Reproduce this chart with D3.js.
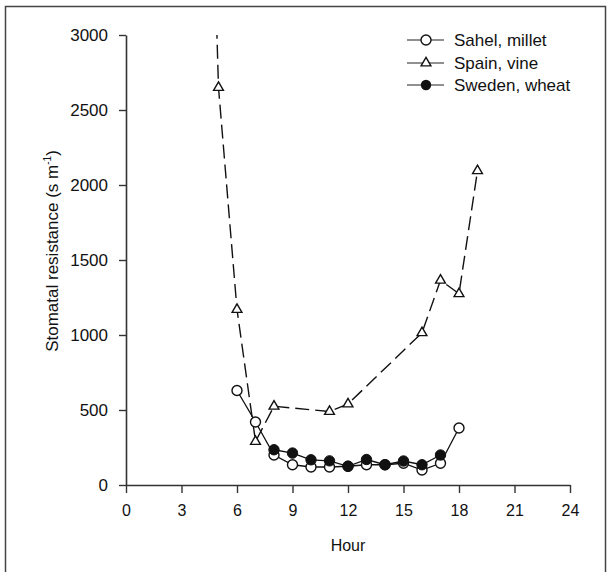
<!DOCTYPE html>
<html>
<head>
<meta charset="utf-8">
<script src="https://cdn.jsdelivr.net/npm/d3@7"></script>
<style>
  body { margin: 0; background: #fff; }
  text { font-family: "Liberation Sans", Arial, sans-serif; fill: #111; }
</style>
</head>
<body>
<script>
// data
var seriesNames = ["Sahel, millet", "Spain, vine", "Sweden, wheat"];

var milletHours = [6, 7, 8, 9, 10, 11, 12, 13, 14, 15, 16, 17, 18];
var milletRes = [630, 420, 200, 135, 120, 120, 125, 135, 135, 145, 100, 145, 380];

// first vine point lies above the plot top and is clipped
var vineHours = [4, 5, 6, 7, 8, 11, 12, 16, 17, 18, 19];
var vineRes = [6800, 2650, 1170, 290, 525, 490, 540, 1015, 1365, 1275, 2095];

var wheatHours = [8, 9, 10, 11, 12, 13, 14, 15, 16, 17];
var wheatRes = [235, 213, 168, 161, 125, 170, 135, 160, 135, 200];

var xTicks = [0, 3, 6, 9, 12, 15, 18, 21, 24];
var yTicks = [0, 500, 1000, 1500, 2000, 2500, 3000];

var width = 611, height = 572;
var margin = {top: 35, right: 41, bottom: 87, left: 126};

var svg = d3.select("body").append("svg")
    .attr("width", width)
    .attr("height", height);

// scanned frame around the figure
svg.append("rect")
    .attr("x", 5.5).attr("y", 6.5)
    .attr("width", 600).attr("height", 620)
    .attr("fill", "none")
    .attr("stroke", "#444")
    .attr("stroke-width", 1.5);

var x = d3.scaleLinear().domain([0, 24]).range([margin.left, width - margin.right]);
var y = d3.scaleLinear().domain([0, 3000]).range([height - margin.bottom, margin.top]);

svg.append("clipPath").attr("id", "plotclip")
  .append("rect")
    .attr("x", x(0)).attr("y", y(3000))
    .attr("width", x(24) - x(0)).attr("height", y(0) - y(3000));

// axes
var yAxis = svg.append("g")
    .attr("transform", "translate(" + x(0) + ",0)")
    .call(d3.axisLeft(y).tickValues(yTicks).tickFormat(d3.format("d"))
      .tickSize(7).tickSizeOuter(0).tickPadding(11));

var xAxis = svg.append("g")
    .attr("transform", "translate(0," + y(0) + ")")
    .call(d3.axisBottom(x).tickValues(xTicks).tickFormat(d3.format("d"))
      .tickSize(8).tickSizeOuter(0).tickPadding(12));

[yAxis, xAxis].forEach(function(ax) {
  ax.select(".domain").attr("stroke", "#333").attr("stroke-width", 1.6);
  ax.selectAll(".tick line").attr("stroke", "#333").attr("stroke-width", 1.4);
  ax.selectAll(".tick text")
    .attr("fill", "#111")
    .style("font-family", "'Liberation Sans', Arial, sans-serif");
});
yAxis.selectAll(".tick text").style("font-size", "17px");
xAxis.selectAll(".tick text").style("font-size", "16px");

// axis titles
var ylab = svg.append("text")
    .attr("transform", "translate(58,251) rotate(-90)")
    .attr("text-anchor", "middle")
    .attr("fill", "#111")
    .style("font-size", "17px");
ylab.append("tspan").text("Stomatal resistance (s m");
ylab.append("tspan").attr("dy", -7).style("font-size", "10px").text("-1");
ylab.append("tspan").attr("dy", 7).text(")");

svg.append("text")
    .attr("x", x(12)).attr("y", 551)
    .attr("text-anchor", "middle")
    .style("font-size", "16px")
    .text("Hour");

function pts(hs, vs) {
  return hs.map(function(h, i) { return {h: h, v: vs[i]}; });
}
var millet = pts(milletHours, milletRes);
var vine = pts(vineHours, vineRes);
var wheat = pts(wheatHours, wheatRes);

var line = d3.line()
    .x(function(d) { return x(d.h); })
    .y(function(d) { return y(d.v); });

var plot = svg.append("g").attr("clip-path", "url(#plotclip)");

plot.append("path").datum(vine)
    .attr("d", line)
    .attr("fill", "none")
    .attr("stroke", "#111")
    .attr("stroke-width", 1.4)
    .attr("stroke-dasharray", "14,6");

plot.append("path").datum(millet)
    .attr("d", line)
    .attr("fill", "none")
    .attr("stroke", "#111")
    .attr("stroke-width", 1.3);

plot.append("path").datum(wheat)
    .attr("d", line)
    .attr("fill", "none")
    .attr("stroke", "#111")
    .attr("stroke-width", 1.3);

var tri = d3.symbol().type(d3.symbolTriangle).size(42);

plot.selectAll(".vine")
    .data(vine.filter(function(d) { return d.v <= 3000; }))
    .enter().append("path")
    .attr("class", "vine")
    .attr("d", tri)
    .attr("transform", function(d) { return "translate(" + x(d.h) + "," + y(d.v) + ")"; })
    .attr("fill", "#fff")
    .attr("stroke", "#111")
    .attr("stroke-width", 1.4);

plot.selectAll(".millet")
    .data(millet)
    .enter().append("circle")
    .attr("class", "millet")
    .attr("cx", function(d) { return x(d.h); })
    .attr("cy", function(d) { return y(d.v); })
    .attr("r", 5)
    .attr("fill", "#fff")
    .attr("stroke", "#111")
    .attr("stroke-width", 1.4);

plot.selectAll(".wheat")
    .data(wheat)
    .enter().append("circle")
    .attr("class", "wheat")
    .attr("cx", function(d) { return x(d.h); })
    .attr("cy", function(d) { return y(d.v); })
    .attr("r", 5.2)
    .attr("fill", "#111")
    .attr("stroke", "#111")
    .attr("stroke-width", 1);

// legend
var legend = svg.append("g");
var rowY = [40, 63, 85];
seriesNames.forEach(function(name, i) {
  var g = legend.append("g").attr("transform", "translate(0," + rowY[i] + ")");
  g.append("line")
      .attr("x1", 407).attr("x2", 444)
      .attr("stroke", "#222").attr("stroke-width", 1.2);
  if (i === 0) {
    g.append("circle").attr("cx", 426).attr("r", 5)
        .attr("fill", "#fff").attr("stroke", "#111").attr("stroke-width", 1.4);
  } else if (i === 1) {
    g.append("path").attr("d", tri).attr("transform", "translate(426,0)")
        .attr("fill", "#fff").attr("stroke", "#111").attr("stroke-width", 1.4);
  } else {
    g.append("circle").attr("cx", 426).attr("r", 5.2).attr("fill", "#111");
  }
  g.append("text")
      .attr("x", 454).attr("dy", "0.35em")
      .style("font-size", "17px")
      .text(name);
});
</script>
</body>
</html>
